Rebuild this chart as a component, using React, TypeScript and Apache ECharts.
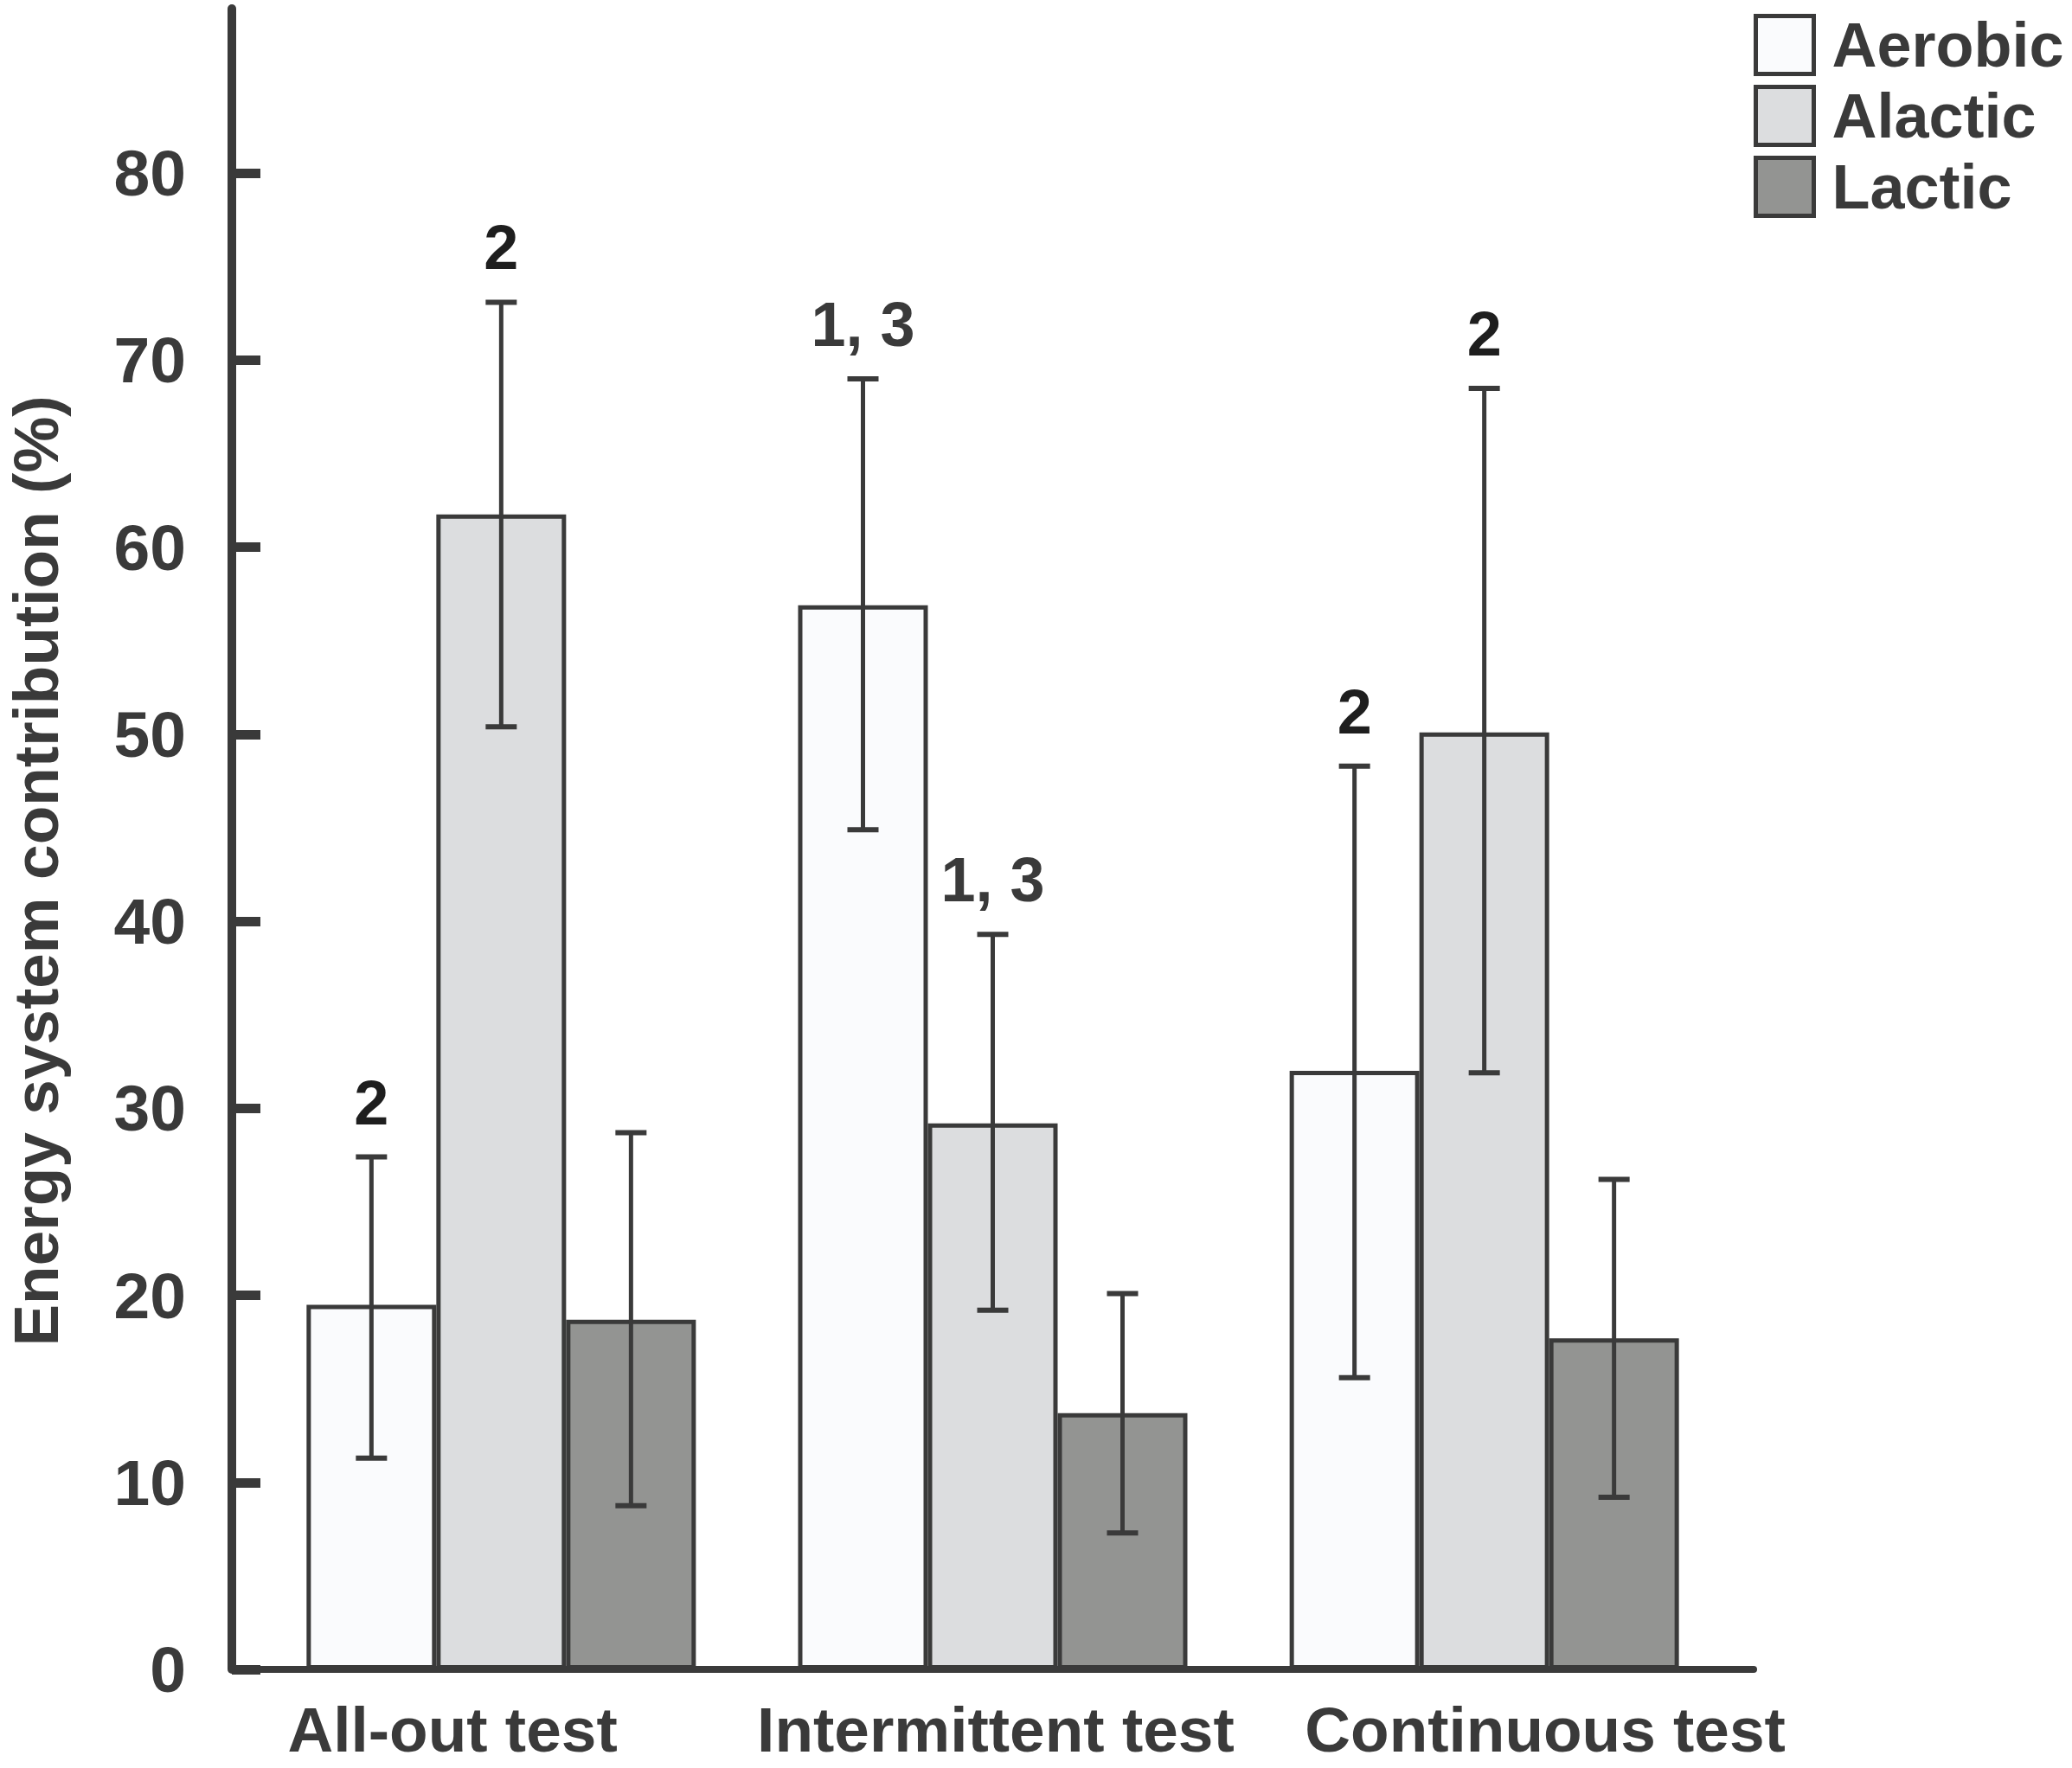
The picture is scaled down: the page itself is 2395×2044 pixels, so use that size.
import React, { useEffect, useRef } from "react";
import * as echarts from "echarts";

// ---------- data ----------
const categories = ["All-out test", "Intermittent test", "Continuous test"];
const systems = ["Aerobic", "Alactic", "Lactic"];

const aerobicMean = [19.5, 56.9, 32.0];
const aerobicLow = [11.3, 44.9, 15.6];
const aerobicHigh = [27.4, 69.0, 48.3];

const alacticMean = [61.75, 29.2, 50.1];
const alacticLow = [50.4, 19.2, 31.9];
const alacticHigh = [73.1, 39.3, 68.5];

const lacticMean = [18.7, 13.7, 17.7];
const lacticLow = [8.75, 7.3, 9.2];
const lacticHigh = [28.7, 20.1, 26.2];

const aerobicNotes = ["2", "1, 3", "2"];
const alacticNotes = ["2", "1, 3", "2"];
const lacticNotes = ["", "", ""];

const yTicks = [0, 10, 20, 30, 40, 50, 60, 70, 80];

// ---------- layout / style ----------
const FONT = '"Liberation Sans", Arial, Helvetica, sans-serif';
const INK = "#3a3a3a";
const fills = ["#fafbfd", "#dcdddf", "#939492"];
const BAR_W = 150;
const X_MIN = -0.548;
const X_MAX = 2.548;
const Y_MAX = 88.8;
// horizontal shift of each category label (in axis units) relative to its group centre
const labelShift = [-0.099, 0.006, 0.124];

export default function App() {
  const ref = useRef<HTMLDivElement>(null);

  useEffect(() => {
    if (!ref.current) return;
    const chart = echarts.init(ref.current, undefined, { renderer: "svg" });

    const means = [aerobicMean, alacticMean, lacticMean];
    const lows = [aerobicLow, alacticLow, lacticLow];
    const highs = [aerobicHigh, alacticHigh, lacticHigh];
    const notes = [aerobicNotes, alacticNotes, lacticNotes];

    const barSeries = systems.map((name, s) => ({
      name,
      type: "bar",
      barWidth: BAR_W,
      barGap: "0%",
      data: means[s].map((v, i) => [i, v]),
      itemStyle: { color: fills[s], borderColor: INK, borderWidth: 5 },
      z: 2,
    }));

    const errSeries = systems.map((name, s) => ({
      name: name + " error",
      type: "custom",
      z: 5,
      data: lows[s].map((lo, i) => [i, lo, highs[s][i]]),
      renderItem: (params: any, api: any) => {
        const x = api.value(0);
        const pLo = api.coord([x, api.value(1)]);
        const pHi = api.coord([x, api.value(2)]);
        const cx = pLo[0] + (s - 1) * BAR_W;
        const capHalf = 18;
        const note = notes[s][params.dataIndex];
        const children: any[] = [
          {
            type: "line",
            shape: { x1: cx, y1: pLo[1], x2: cx, y2: pHi[1] },
            style: { stroke: INK, lineWidth: 5 },
          },
          {
            type: "line",
            shape: { x1: cx - capHalf, y1: pHi[1], x2: cx + capHalf, y2: pHi[1] },
            style: { stroke: INK, lineWidth: 6 },
          },
          {
            type: "line",
            shape: { x1: cx - capHalf, y1: pLo[1], x2: cx + capHalf, y2: pLo[1] },
            style: { stroke: INK, lineWidth: 6 },
          },
        ];
        if (note) {
          children.push({
            type: "text",
            x: cx,
            y: pHi[1] - 63,
            style: {
              text: note,
              fill: note === "2" ? "#1e1e1e" : INK,
              fontSize: 72,
              fontWeight: "bold",
              fontFamily: FONT,
              align: "center",
              verticalAlign: "middle",
            },
          });
        }
        return { type: "group", children };
      },
    }));

    chart.setOption({
      animation: false,
      backgroundColor: "#ffffff",
      textStyle: { fontFamily: FONT },
      grid: {
        left: 268,
        right: 368,
        top: 10,
        bottom: 114,
        containLabel: false,
        outerBoundsMode: "none",
      },
      legend: {
        data: systems,
        orient: "vertical",
        left: 2027,
        top: 16,
        padding: 0,
        icon: "rect",
        itemWidth: 67,
        itemHeight: 67,
        itemGap: 10,
        selectedMode: false,
        itemStyle: { borderWidth: 5, borderColor: INK },
        textStyle: {
          fontSize: 72,
          fontWeight: "bold",
          color: INK,
          fontFamily: FONT,
          lineHeight: 60,
          padding: [12, 0, 0, 16],
        },
      },
      xAxis: {
        type: "value",
        min: X_MIN,
        max: X_MAX,
        axisLine: { show: true, onZero: false, lineStyle: { color: INK, width: 8 } },
        axisTick: { show: false },
        splitLine: { show: false },
        axisLabel: {
          customValues: categories.map((_, i) => i + labelShift[i]),
          formatter: (v: number) => categories[Math.round(v)] ?? "",
          fontSize: 73,
          fontWeight: "bold",
          color: INK,
          fontFamily: FONT,
          lineHeight: 60,
          margin: 39,
        },
      },
      yAxis: {
        type: "value",
        min: 0,
        max: Y_MAX,
        name: "Energy system contribution (%)",
        nameLocation: "middle",
        nameRotate: 90,
        nameGap: 196,
        nameTextStyle: {
          fontSize: 73,
          fontWeight: "bold",
          color: INK,
          fontFamily: FONT,
          lineHeight: 62,
          padding: [0, 74, 0, 0],
        },
        axisLine: { show: true, onZero: false, lineStyle: { color: INK, width: 10 } },
        axisTick: {
          show: true,
          inside: true,
          length: 33,
          customValues: yTicks,
          lineStyle: { color: INK, width: 11 },
        },
        axisLabel: {
          customValues: yTicks,
          fontSize: 75,
          fontWeight: "bold",
          color: INK,
          fontFamily: FONT,
          margin: 53,
        },
        splitLine: { show: false },
      },
      series: [...barSeries, ...errSeries],
    });

    return () => chart.dispose();
  }, []);

  return (
    <div
      ref={ref}
      style={{ position: "fixed", left: 0, top: 0, width: 2395, height: 2044, background: "#fff" }}
    />
  );
}
